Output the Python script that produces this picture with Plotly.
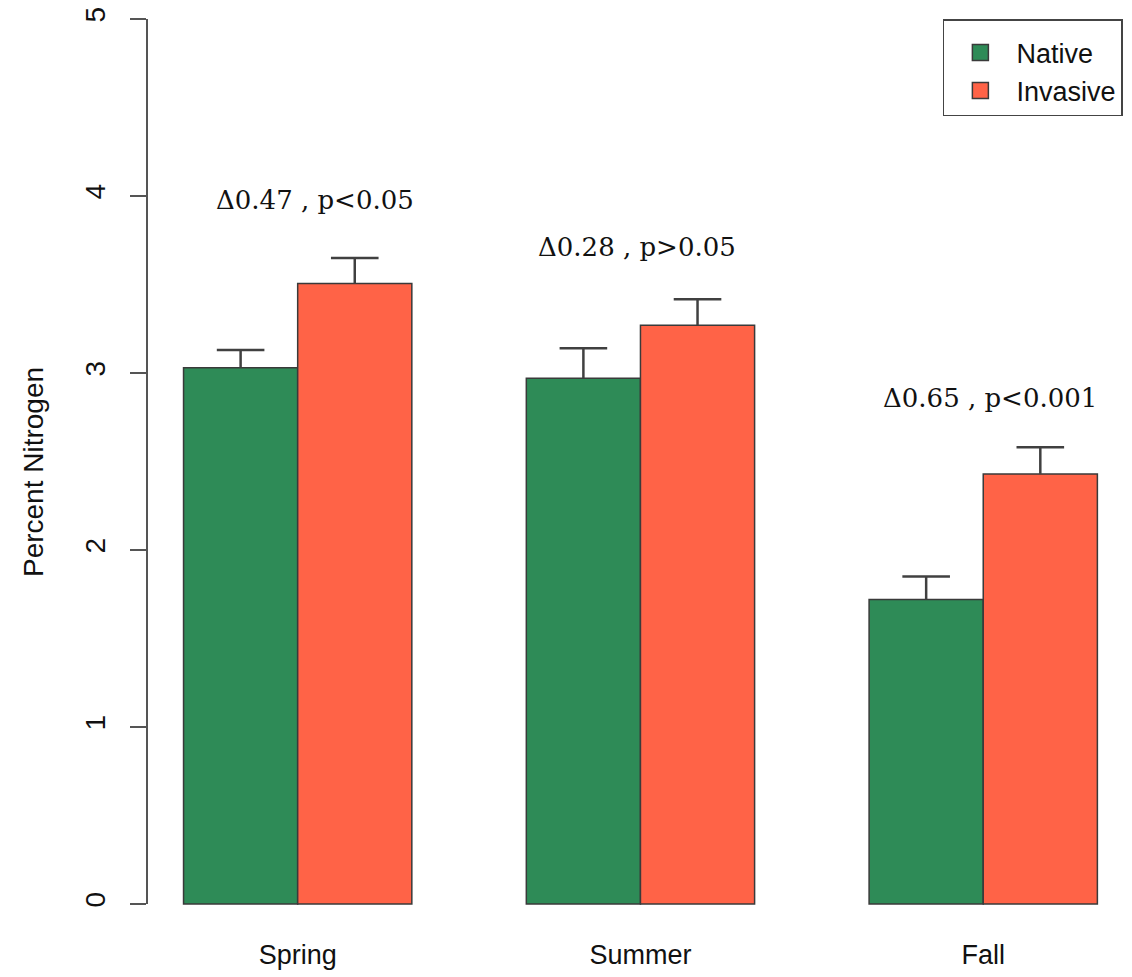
import plotly.graph_objects as go

seasons = ["Spring", "Summer", "Fall"]
native = [3.03, 2.97, 1.72]
invasive = [3.505, 3.27, 2.43]
native_se = [0.10, 0.17, 0.13]
invasive_se = [0.145, 0.147, 0.15]
labels = ["\u03940.47 , p<0.05", "\u03940.28 , p>0.05", "\u03940.65 , p<0.001"]
label_x = [0.05, 0.99, 2.02]
label_y = [3.98, 3.71, 2.86]

GREEN = "#2E8B57"
TOMATO = "#FF6347"
EDGE = "#3a3a3a"
AXIS = "#555555"
WHISK = "#404040"
SANS = "Liberation Sans, Arial, Helvetica, sans-serif"
BARGAP = 0.334
half = (1 - BARGAP) / 4  # offset of each bar centre from the category centre
pos = list(range(len(seasons)))

fig = go.Figure()
for name, vals, se, col, sign in [("Native", native, native_se, GREEN, -1),
                                  ("Invasive", invasive, invasive_se, TOMATO, 1)]:
    fig.add_trace(go.Bar(
        x=pos, y=vals, name=name, showlegend=False,
        marker=dict(color=col, line=dict(color=EDGE, width=1.5)),
        error_y=dict(type="data", array=se, arrayminus=[0] * len(se),
                     symmetric=False, color=WHISK, thickness=2.5, width=0),
    ))
    # caps of the whiskers
    fig.add_trace(go.Scatter(
        x=[i + sign * half for i in pos],
        y=[v + e for v, e in zip(vals, se)],
        mode="markers", showlegend=False, hoverinfo="skip",
        marker=dict(symbol="line-ew", size=34, color=WHISK,
                    line=dict(color=WHISK, width=2.5)),
    ))

# legend entries (larger square keys)
for name, col in [("Native", GREEN), ("Invasive", TOMATO)]:
    fig.add_trace(go.Scatter(
        x=[None], y=[None], mode="markers", name=name,
        marker=dict(symbol="square", size=20, color=col,
                    line=dict(color=EDGE, width=1.5)),
    ))

for t, x, y in zip(labels, label_x, label_y):
    fig.add_annotation(x=x, y=y, xref="x", yref="y", text=t, showarrow=False,
                       font=dict(family="DejaVu Serif, serif", size=26, color="#111111"),
                       xanchor="center", yanchor="middle")

fig.add_shape(type="line", xref="paper", yref="y", x0=0, x1=0, y0=0, y1=5,
              line=dict(color=AXIS, width=2))

fig.update_layout(
    width=1124, height=969,
    margin=dict(l=139, r=0, t=0, b=41),
    plot_bgcolor="white", paper_bgcolor="white",
    barmode="group", bargap=BARGAP, bargroupgap=0,
    font=dict(family=SANS, size=28, color="#111111"),
    showlegend=True,
    legend=dict(x=0.808, y=0.988, xanchor="left", yanchor="top",
                bordercolor="#444444", borderwidth=1.5, bgcolor="white",
                font=dict(size=27), tracegroupgap=0, itemwidth=62,
                itemsizing="trace",
                title=dict(text=" ", font=dict(size=6))),
    xaxis=dict(range=[-0.4396, 2.434], tickvals=pos, ticktext=seasons,
               showline=False, showgrid=False,
               zeroline=False, ticks="", tickfont=dict(size=27),
               automargin=False),
    yaxis=dict(range=[-0.181, 5.0622], tickvals=[0, 1, 2, 3, 4, 5],
               showline=False, showgrid=False, zeroline=False,
               ticks="outside", ticklen=16, tickwidth=2, tickcolor=AXIS,
               tickangle=-90, tickfont=dict(size=28), ticklabelstandoff=14,
               ticklabeloverflow="allow",
               automargin=False,
               title=dict(text="Percent Nitrogen", font=dict(size=28), standoff=27)),
)

fig.write_html("out.html")
